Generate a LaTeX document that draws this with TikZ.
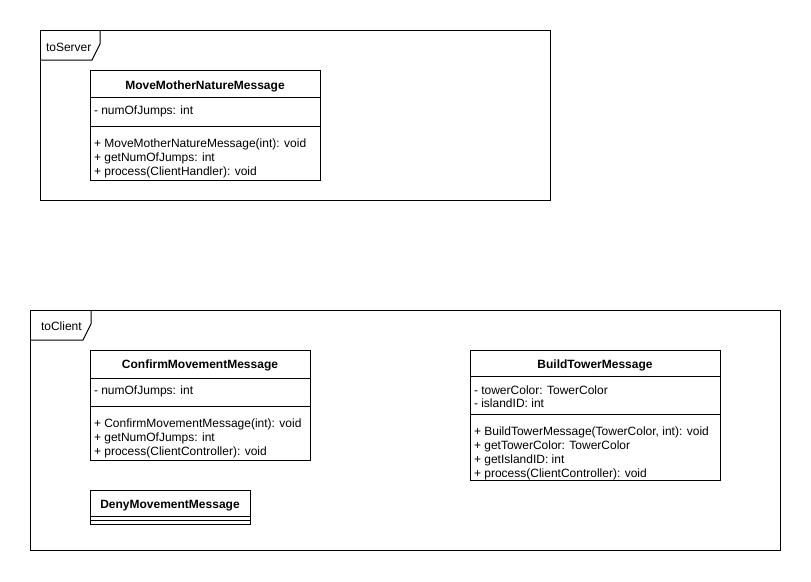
\documentclass[tikz,border=0pt]{standalone}
\usepackage{fontspec}
\setmainfont{Liberation Sans}
\begin{document}
\begin{tikzpicture}[x=1pt,y=-1pt,
  line width=1pt,
  frame/.style={draw=black,line width=1pt,anchor=north west,inner sep=0pt,outer sep=0pt},
  box/.style={draw=black,line width=1pt,fill=white,anchor=north west,inner sep=0pt,outer sep=0pt},
  txt/.style={anchor=base west,inner sep=0pt,outer sep=0pt,font=\fontsize{12}{14}\selectfont},
  hdr/.style={anchor=base,inner sep=0pt,outer sep=0pt,font=\fontsize{12}{14}\selectfont\bfseries}]
\useasboundingbox[fill=white] (0,0) rectangle (811,581);

% ---- toServer frame ----
\node[frame,minimum width=510pt,minimum height=170pt] (srv) at (40,30) {};
\draw ([xshift=60pt]srv.north west) -- ++(0,14) -- ++(-8,16) -- (srv.west |- 0,60);
\node[txt] (srvlbl) at (46,51) {toServer};

% MoveMotherNatureMessage
\node[box,minimum width=230pt,minimum height=110pt] (mm) at (90,70) {};
\draw (mm.west |- 0,97) -- (mm.east |- 0,97);
\draw (mm.west |- 0,126) -- (mm.east |- 0,126);
\node[hdr] (mmh) at (205,89) {MoveMotherNatureMessage};
\node[txt] (mma1) at (94,114.3) {- numOfJumps: int};
\node[txt] (mmm1) at (94,147.5) {+ MoveMotherNatureMessage(int): void};
\node[txt] (mmm2) at (94,161.5) {+ getNumOfJumps: int};
\node[txt] (mmm3) at (94,175.5) {+ process(ClientHandler): void};

% ---- toClient frame ----
\node[frame,minimum width=750pt,minimum height=240pt] (cli) at (30,310) {};
\draw ([xshift=61pt]cli.north west) -- ++(0,14) -- ++(-8,16) -- (cli.west |- 0,340);
\node[txt] (clilbl) at (41,330) {toClient};

% ConfirmMovementMessage
\node[box,minimum width=220pt,minimum height=110pt] (cm) at (90,350) {};
\draw (cm.west |- 0,378) -- (cm.east |- 0,378);
\draw (cm.west |- 0,406) -- (cm.east |- 0,406);
\node[hdr] (cmh) at (200,368.6) {ConfirmMovementMessage};
\node[txt] (cma1) at (94,394.3) {- numOfJumps: int};
\node[txt] (cmm1) at (94,427.5) {+ ConfirmMovementMessage(int): void};
\node[txt] (cmm2) at (94,441.5) {+ getNumOfJumps: int};
\node[txt] (cmm3) at (94,455.5) {+ process(ClientController): void};

% DenyMovementMessage
\node[box,minimum width=160pt,minimum height=34pt] (dm) at (90,490) {};
\draw (dm.west |- 0,516.5) -- (dm.east |- 0,516.5);
\draw (dm.west |- 0,520) -- (dm.east |- 0,520);
\node[hdr] (dmh) at (170,508.6) {DenyMovementMessage};

% BuildTowerMessage
\node[box,minimum width=250pt,minimum height=130pt] (bt) at (470,350) {};
\draw (bt.west |- 0,376) -- (bt.east |- 0,376);
\draw (bt.west |- 0,414) -- (bt.east |- 0,414);
\node[hdr] (bth) at (595,368.3) {BuildTowerMessage};
\node[txt] (bta1) at (474,394.3) {- towerColor: TowerColor};
\node[txt] (bta2) at (474,407.6) {- islandID: int};
\node[txt] (btm1) at (474,435) {+ BuildTowerMessage(TowerColor, int): void};
\node[txt] (btm2) at (474,449) {+ getTowerColor: TowerColor};
\node[txt] (btm3) at (474,463) {+ getIslandID: int};
\node[txt] (btm4) at (474,477.3) {+ process(ClientController): void};
\end{tikzpicture}
\end{document}
